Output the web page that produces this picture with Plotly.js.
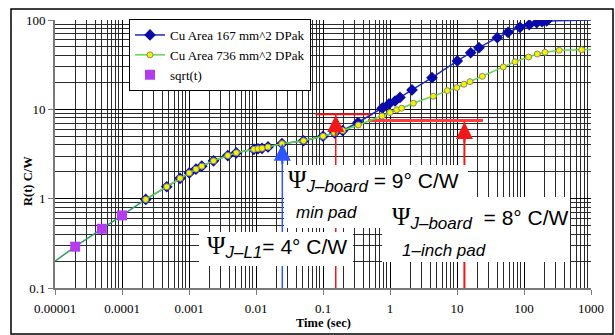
<!DOCTYPE html>
<html><head><meta charset="utf-8">
<script src="https://cdn.plot.ly/plotly-3.0.1.min.js"></script>
<style>html,body{margin:0;padding:0;background:#fff}</style>
</head><body><div id="chart" style="width:615px;height:335px"></div>
<script>
// ---- data ----
var sqrtT = [2e-5, 5e-5, 1e-4];
var sqrtR = [0.29, 0.46, 0.65];

var fitT = [1e-5, 2e-5, 5e-5, 1e-4, 2.26e-4];
var fitR = [0.20, 0.29, 0.46, 0.65, 0.98];

var cu167T = [2.26e-4, 4.65e-4, 7.35e-4, 1.01e-3, 1.27e-3, 1.55e-3, 2.32e-3, 3.79e-3, 5.08e-3, 9.3e-3, 0.0107, 0.0123, 0.0151, 0.0244, 0.0512, 0.1, 0.149, 0.197,
              0.333, 0.766, 0.966, 1.19, 1.41, 2.13, 4.24, 10.1, 16.0, 21.3, 39.9, 57.7, 87.1, 120, 155, 186, 218];
var cu167R = [0.98, 1.36, 1.69, 1.94, 2.14, 2.31, 2.65, 3.04, 3.26, 3.57, 3.62, 3.66, 3.79, 4.13, 4.45, 5.0, 5.43, 5.79,
              7.12, 10.3, 11.5, 12.4, 13.6, 16.5, 22.6, 34.8, 43.0, 49.0, 63.4, 72.8, 82.9, 88.5, 93.3, 95.7, 97.5];
var cu167TailT = [218, 1000];
var cu167TailR = [97.5, 100];

var cu736T = [2.26e-4, 4.65e-4, 7.35e-4, 1.01e-3, 1.27e-3, 1.55e-3, 2.32e-3, 3.79e-3, 5.08e-3, 9.3e-3, 0.0107, 0.0123, 0.0151, 0.0244, 0.0512, 0.1, 0.149, 0.197,
              0.337, 0.76, 1.0, 1.26, 1.49, 2.23, 4.43, 7.16, 9.9, 12.7, 15.6, 23.9, 49.1, 73.5, 117, 158, 206, 336, 726];
var cu736R = [0.98, 1.36, 1.69, 1.94, 2.14, 2.31, 2.65, 3.04, 3.26, 3.57, 3.62, 3.66, 3.79, 4.13, 4.45, 5.0, 5.43, 5.79,
              6.68, 8.42, 9.22, 9.88, 10.3, 11.7, 14.0, 16.2, 17.5, 19.1, 20.4, 23.4, 29.8, 34.1, 38.5, 41.6, 43.5, 45.8, 46.5];
var cu736TailT = [726, 1000];
var cu736TailR = [46.5, 46.7];

// marker lines (psi levels)
var psiL1T = 0.0247, psiL1R = 4.13;            // blue arrow
var psiMinT = 0.155, psiMinR = 8.64;           // red arrow (min pad)
var psi1inT = 12.9, psi1inR = 7.2;             // red arrow (1-inch pad)
var levelMinT = [0.0773, 0.548], levelMinR = [8.8, 8.8];
var level1inT = [0.47, 24.4], level1inR = [7.5, 7.5];

var xTickVals = [1e-5, 1e-4, 1e-3, 1e-2, 0.1, 1, 10, 100, 1000];
var xTickText = ['0.00001', '0.0001', '0.001', '0.01', '0.1', '1', '10', '100', '1000'];
var yTickVals = [0.1, 1, 10, 100];
var yTickText = ['0.1', '1', '10', '100'];

// ---- build ----
function minorVals(lo, hi) {
  var out = [];
  for (var e = lo; e < hi; e++) for (var d = 2; d <= 9; d++) out.push(d * Math.pow(10, e));
  return out;
}
var L = 55, R = 591, T = 20, B = 288;
function px(x) { return (x - L) / (R - L); }
function py(y) { return (B - y) / (B - T); }

var serif = 'Liberation Serif, Times New Roman, serif';
var sans = 'Liberation Sans, Arial, sans-serif';

var traces = [
  {x: levelMinT, y: levelMinR, mode: 'lines', line: {color: '#f01818', width: 2}, showlegend: false, hoverinfo: 'skip'},
  {x: level1inT, y: level1inR, mode: 'lines', line: {color: '#ff3b3b', width: 3}, showlegend: false, hoverinfo: 'skip'},
  {x: [psiL1T, psiL1T], y: [0.1, psiL1R], mode: 'lines', line: {color: '#2a55ff', width: 1.5}, showlegend: false, hoverinfo: 'skip'},
  {x: [psiMinT, psiMinT], y: [0.1, psiMinR], mode: 'lines', line: {color: '#f01818', width: 1.5}, showlegend: false, hoverinfo: 'skip'},
  {x: [psi1inT, psi1inT], y: [0.1, psi1inR], mode: 'lines', line: {color: '#f01818', width: 2}, showlegend: false, hoverinfo: 'skip'},
  {x: cu167TailT, y: cu167TailR, mode: 'lines', line: {color: '#1a2cb8', width: 1.5}, showlegend: false},
  {x: cu736TailT, y: cu736TailR, mode: 'lines', line: {color: '#5fd84a', width: 1.5}, showlegend: false},
  {x: fitT, y: fitR, mode: 'lines', line: {color: '#2e9a66', width: 1.5}, showlegend: false},
  {x: cu167T, y: cu167R, mode: 'lines+markers', name: 'Cu Area 167 mm^2 DPak',
   line: {color: '#1a2cb8', width: 1.5},
   marker: {symbol: 'diamond', size: 9, color: '#0a0aa8', line: {width: 0}}},
  {x: cu736T, y: cu736R, mode: 'lines+markers', name: 'Cu Area 736 mm^2 DPak',
   line: {color: '#5fd84a', width: 1.5},
   marker: {symbol: 'circle', size: 6, color: '#f4f400', line: {width: 1, color: '#8a8a6a'}}},
  {x: sqrtT, y: sqrtR, mode: 'markers', name: 'sqrt(t)',
   marker: {symbol: 'square', size: 10, color: '#b43cf0'}}
];

function box(x0, y0, x1, y1) {
  return {type: 'rect', xref: 'paper', yref: 'paper', layer: 'above',
    x0: px(x0), x1: px(x1), y0: py(y1), y1: py(y0), fillcolor: '#ffffff', line: {width: 0}};
}

var shapes = [
  box(284, 165, 468, 228),
  box(199, 232, 353, 266),
  box(382, 197, 570, 262),
  {type: 'rect', xref: 'paper', yref: 'paper', x0: px(11), x1: px(613), y0: py(334), y1: py(9),
   line: {color: '#000', width: 1.5}, fillcolor: 'rgba(0,0,0,0)', layer: 'above'}
];

function arrowHead(t, r, color) {
  return {x: Math.log10(t), y: Math.log10(r), xref: 'x', yref: 'y', text: '', showarrow: true,
    ax: 0, ay: 22, arrowhead: 2, arrowsize: 1.7, arrowwidth: 2, arrowcolor: color};
}
function label(text, x, y, size, fam) {
  return {xref: 'paper', yref: 'paper', x: px(x), y: py(y), xanchor: 'left', yanchor: 'middle',
    text: text, showarrow: false, font: {family: fam || sans, size: size, color: '#000'}};
}
var psi = '<span style="font-family:Liberation Serif;font-size:25px">Ψ</span>';
function sub(s) { return '<sub><span style="font-size:17px;font-style:italic">' + s + '</span></sub>'; }

var annotations = [
  arrowHead(psiL1T, psiL1R, '#2a55ff'),
  arrowHead(psiMinT, psiMinR, '#f01818'),
  arrowHead(psi1inT, psi1inR, '#f01818'),
  label(psi + sub('J–board') + ' = 9° C/W', 286, 181, 21),
  label('<i>min pad</i>', 294, 212, 17),
  label(psi + sub('J–board') + '  = 8° C/W', 390, 218, 21),
  label('<i>1–inch pad</i>', 400, 250, 17),
  label(psi + sub('J–L1') + '= 4° C/W', 205, 247, 21),
  {xref: 'paper', yref: 'paper', x: px(28), y: py(181), xanchor: 'center', yanchor: 'middle',
   text: '<b>R(t) C/W</b>', textangle: -90,
   showarrow: false, font: {family: serif, size: 12.5, color: '#000'}},
  {xref: 'paper', yref: 'paper', x: px(323), y: py(323), xanchor: 'center', yanchor: 'middle',
   text: '<b>Time (sec)</b>',
   showarrow: false, font: {family: serif, size: 12.5, color: '#000'}}
];

var axisCommon = {
  showline: true, linecolor: '#7a7a7a', linewidth: 2, ticks: 'outside', ticklen: 5, tickcolor: '#7a7a7a',
  showgrid: true, gridcolor: '#000000', gridwidth: 1, zeroline: false,
  tickfont: {family: serif, size: 13, color: '#000'}, tickmode: 'array'
};

var layout = {
  width: 615, height: 335,
  margin: {l: L, r: 615 - R, t: T, b: 335 - B, pad: 0},
  paper_bgcolor: '#fff', plot_bgcolor: '#fff',
  showlegend: true,
  legend: {x: px(129), y: py(19), xanchor: 'left', yanchor: 'top', bgcolor: '#fff',
    bordercolor: '#000', borderwidth: 1, font: {family: serif, size: 13, color: '#000'},
    tracegroupgap: 0},
  xaxis: Object.assign({}, axisCommon, {type: 'log', range: [-5, 3], tickvals: xTickVals, ticktext: xTickText,
    ticklabelstandoff: 2,
    minor: {tickmode: 'array', tickvals: minorVals(-5, 3), showgrid: true, gridcolor: '#2a2a2a', gridwidth: 1, ticks: ''}}),
  yaxis: Object.assign({}, axisCommon, {type: 'log', range: [-1, 2], tickvals: yTickVals, ticktext: yTickText,
    minor: {tickmode: 'array', tickvals: minorVals(-1, 2), showgrid: true, gridcolor: '#2a2a2a', gridwidth: 1, ticks: ''}}),
  shapes: shapes,
  annotations: annotations
};

Plotly.newPlot('chart', traces, layout, {displayModeBar: false, staticPlot: true});
</script>
</body></html>
